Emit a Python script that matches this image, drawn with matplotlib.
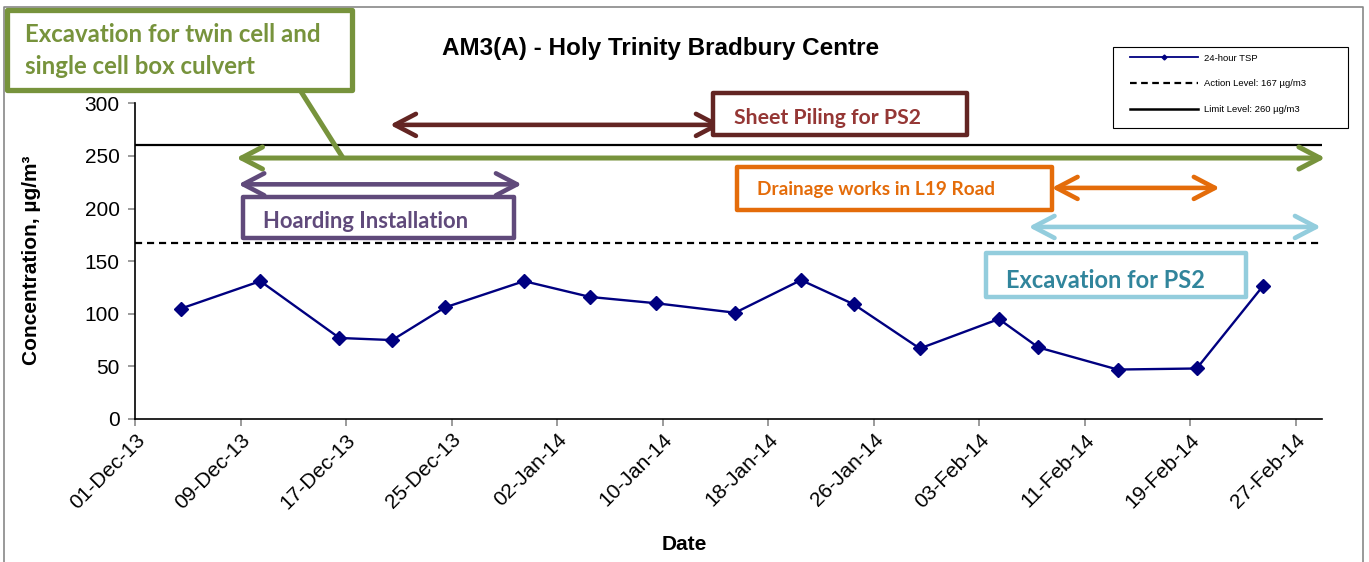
import matplotlib
matplotlib.use('Agg')
import matplotlib.pyplot as plt
import matplotlib.dates as mdates
from matplotlib.patches import Rectangle, FancyArrowPatch
from matplotlib.lines import Line2D
import pandas as pd

# ---------------- data ----------------
sample_dates = ['2013-12-04 12:00', '2013-12-10 12:00', '2013-12-16 12:00', '2013-12-20 12:00',
                '2013-12-24 12:00', '2013-12-30 12:00', '2014-01-04 12:00', '2014-01-09 12:00',
                '2014-01-15 12:00', '2014-01-20 12:00', '2014-01-24 12:00', '2014-01-29 12:00',
                '2014-02-04 12:00', '2014-02-07 12:00', '2014-02-13 12:00', '2014-02-19 12:00',
                '2014-02-24 12:00']
tsp_values = [105, 131, 77, 75, 106, 131, 116, 110, 101, 132, 109, 67, 95, 68, 47, 48, 126]
action_level = 167
limit_level = 260
series_labels = ['24-hour TSP', 'Action Level: 167 µg/m3', 'Limit Level: 260 µg/m3']
title = 'AM3(A) - Holy Trinity Bradbury Centre'

activities = ['Excavation for twin cell and\nsingle cell box culvert', 'Hoarding Installation',
              'Sheet Piling for PS2', 'Drainage works in L19 Road', 'Excavation for PS2']
act_start = ['2013-12-08 16:00', '2013-12-08 20:00', '2013-12-20 08:00', '2014-02-08 12:00', '2014-02-06 18:00']
act_end = ['2014-03-01 06:00', '2013-12-30 08:00', '2014-01-14 12:00', '2014-02-21 06:00', '2014-02-28 22:00']
act_level = [248, 223, 279.5, 219.6, 182.5]

# ---------------- style ----------------
W, H = 1369, 562
fig = plt.figure(figsize=(W / 100, H / 100), dpi=100)
ax = fig.add_axes([135 / W, 1 - 419 / H, (1322 - 135) / W, (419 - 103.3) / H])

x = pd.to_datetime(sample_dates)
ax.plot(x, tsp_values, color='#000080', lw=1.7, marker='D', ms=6.8, zorder=5)
ax.axhline(action_level, color='black', lw=1.6, ls=(0, (3.2, 2.2)), zorder=3)
ax.axhline(limit_level, color='black', lw=1.6, zorder=3)

ax.set_xlim(pd.Timestamp('2013-12-01'), pd.Timestamp('2014-03-01'))
ax.set_ylim(0, 300)
ax.set_yticks(range(0, 301, 50))
ax.set_xticks(pd.date_range('2013-12-01', '2014-02-27', freq='8D'))
ax.xaxis.set_major_formatter(mdates.DateFormatter('%d-%b-%y'))

FONT = 'Liberation Sans'
for s in ['top', 'right']:
    ax.spines[s].set_visible(False)
for s in ['left', 'bottom']:
    ax.spines[s].set_linewidth(1.2)
ax.tick_params(axis='both', direction='out', length=5, width=1.1, color='#808080',
               labelsize=15)
ax.tick_params(axis='y', pad=6)
ax.tick_params(axis='x', pad=3)
for lab in ax.get_yticklabels():
    lab.set_fontfamily(FONT)
for lab in ax.get_xticklabels():
    lab.set_fontfamily(FONT)
    lab.set_rotation(45)
    lab.set_ha('right')
    lab.set_va('top')
    lab.set_rotation_mode('anchor')

fig.text(661 / W, 1 - 48 / H, title, ha='center', va='center', fontsize=17.5,
         fontweight='bold', family=FONT)
fig.text(32 / W, 1 - 260 / H, 'Concentration, µg/m³', ha='center', va='center', rotation=90,
         fontsize=15, fontweight='bold', family=FONT)
fig.text(684 / W, 1 - 545 / H, 'Date', ha='center', va='center', fontsize=15,
         fontweight='bold', family=FONT)

# outer chart frame
tf = fig.transFigure
def P(px, py):
    return (px / W, 1 - py / H)
fig.add_artist(Line2D([4 / W, 4 / W, 1363 / W, 1363 / W], [0, 1 - 7 / H, 1 - 7 / H, 0],
                      transform=tf, color='#888888', lw=1.2))

# legend
fig.add_artist(Rectangle(P(1113, 128), 235 / W, 81 / H, transform=tf, fill=False,
                         edgecolor='black', lw=0.8))
handles = [Line2D([], [], color='#000080', lw=1.3, marker='D', ms=2.5),
           Line2D([], [], color='black', lw=1.6, ls=(0, (3, 2))),
           Line2D([], [], color='black', lw=1.8)]
leg = fig.legend(handles, series_labels, loc='upper left', bbox_to_anchor=P(1126, 50),
                 frameon=False, prop={'family': FONT, 'size': 6.8}, handlelength=7.2,
                 handletextpad=0.7, labelspacing=1.75, borderaxespad=0, borderpad=0.4)

# annotations
CAL = 'Lato'
renderer = fig.canvas.get_renderer()

def fit_text(px, py, s, target_w, color, ha='center', fs=15):
    t = fig.text(px / W, 1 - py / H, s, ha=ha, va='center', color=color, fontsize=fs,
                 fontweight='bold', family=CAL, zorder=20)
    w = t.get_window_extent(renderer).width
    t.set_fontsize(fs * target_w / w)
    return t

def box(l, t, r, b, color, lw):
    fig.add_artist(Rectangle(P(l, b), (r - l) / W, (b - t) / H, transform=tf, facecolor='white',
                             edgecolor=color, lw=lw, joinstyle='round', zorder=15))

def arrow(i, color, lw=3.4):
    a = FancyArrowPatch((mdates.date2num(pd.Timestamp(act_start[i])), act_level[i]),
                        (mdates.date2num(pd.Timestamp(act_end[i])), act_level[i]),
                        arrowstyle='<->,head_length=0.42,head_width=0.22', mutation_scale=36,
                        color=color, lw=lw, capstyle='round', joinstyle='round',
                        shrinkA=0, shrinkB=0, clip_on=False, zorder=8)
    ax.add_patch(a)

colors_border = ['#77933C', '#604A7B', '#632523', '#E46C0A', '#93CDDD']
colors_text = ['#77933C', '#604A7B', '#953735', '#E46C0A', '#31859C']

for i in range(5):
    arrow(i, colors_border[i], lw=3.6 if i == 0 else 3.3)

# green callout
box(7, 10, 352, 90, colors_border[0], 3.8)
fig.add_artist(Line2D([300 / W, 343 / W], [1 - 90 / H, 1 - 158 / H], transform=tf,
                      color=colors_border[0], lw=3.6, solid_capstyle='butt', zorder=14))
lines = activities[0].split('\n')
t1 = fit_text(25, 35, lines[0], 297, colors_text[0], ha='left')
fig.text(25 / W, 1 - 67 / H, lines[1], ha='left', va='center', color=colors_text[0],
         fontsize=t1.get_fontsize(), fontweight='bold', family=CAL, zorder=20)

box(243, 197, 514, 238, colors_border[1], 3.2)
fit_text(366, 222, activities[1], 206, colors_text[1])
box(713, 93, 967, 135, colors_border[2], 3.2)
fit_text(827, 118, activities[2], 188, colors_text[2])
box(737, 167, 1052, 210, colors_border[3], 3.2)
fit_text(876, 190, activities[3], 239, colors_text[3])
box(986, 253, 1246, 297, colors_border[4], 3.2)
fit_text(1106, 281, activities[4], 200, colors_text[4])

fig.savefig('out.png', dpi=100)
